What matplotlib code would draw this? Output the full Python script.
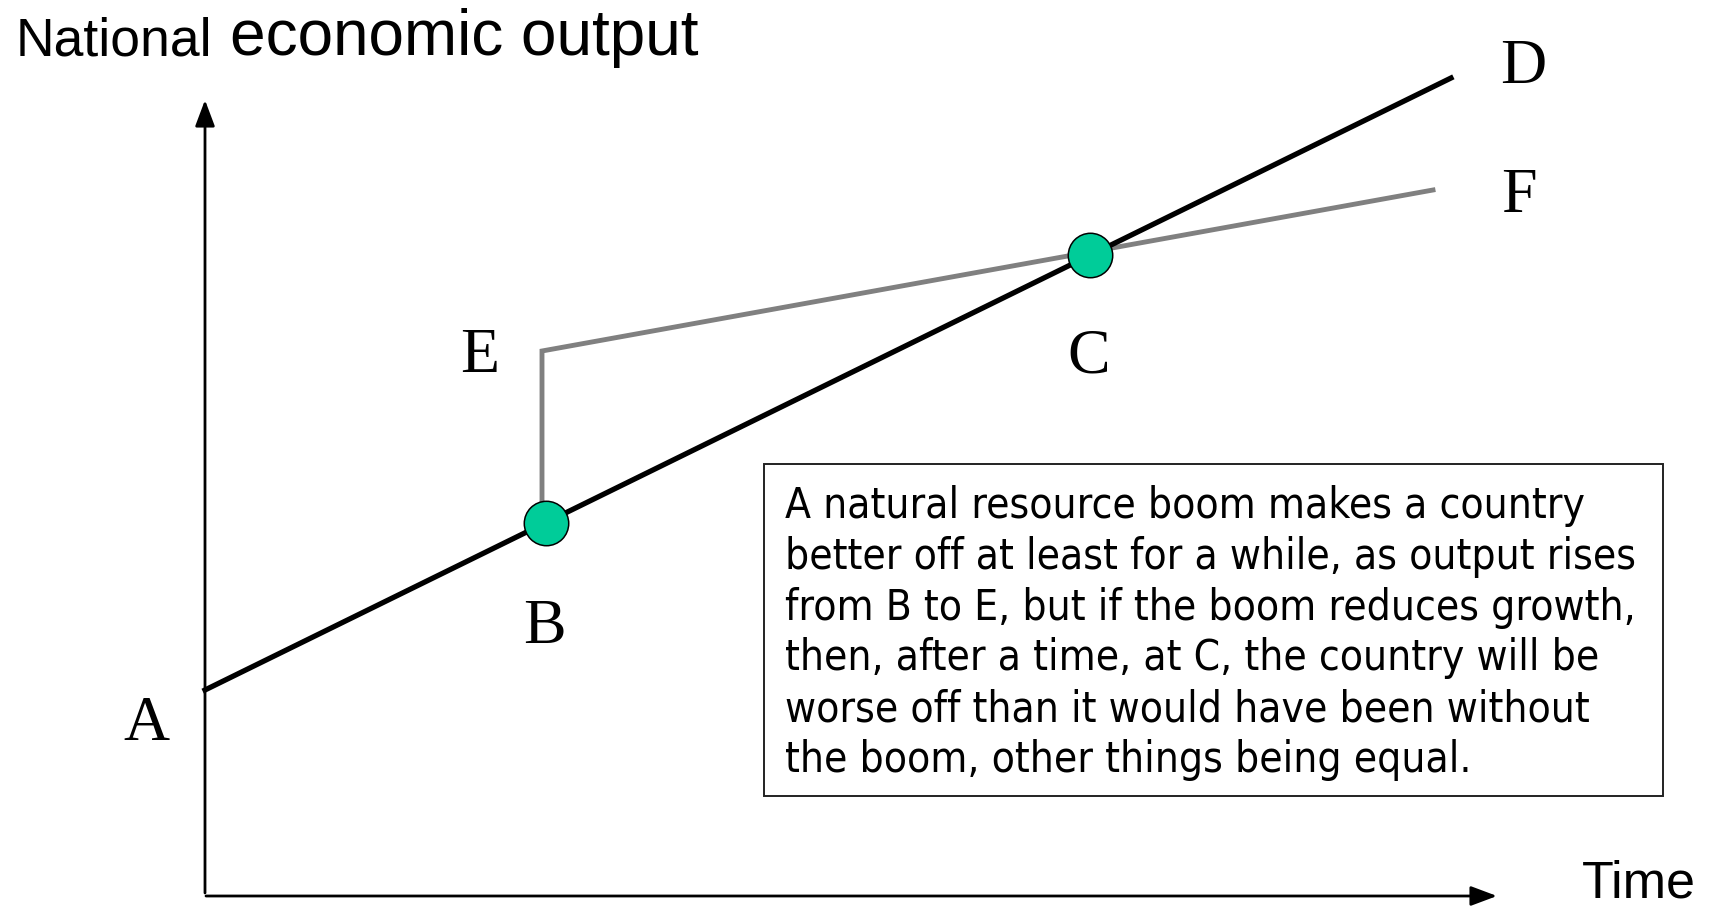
import matplotlib
matplotlib.use('Agg')
import matplotlib.pyplot as plt
from matplotlib.patches import Rectangle

# schematic values (time, output) in axis units, origin at the axis corner
no_boom_time = [0.0, 12.46]
no_boom_output = [2.06, 8.18]
boom_time = [3.37, 3.37, 12.28]
boom_output = [3.70, 5.45, 7.06]
dot_time = [3.41, 8.85]
dot_output = [3.735, 6.41]

point_labels = ['A', 'B', 'C', 'D', 'E', 'F']
label_time = [-0.585, 3.39, 8.84, 13.18, 2.745, 13.135]
label_output = [1.56, 2.53, 5.24, 8.13, 5.24, 6.84]

note_lines = [
    'A natural resource boom makes a country',
    'better off at least for a while, as output rises',
    'from B to E, but if the boom reduces growth,',
    'then, after a time, at C, the country will be',
    'worse off than it would have been without',
    'the boom, other things being equal.',
]

fig = plt.figure(figsize=(17.13, 9.09), dpi=100)
ax = fig.add_axes([0, 0, 1, 1])
ax.set_xlim(-2.05, 15.08)
ax.set_ylim(-0.13, 8.96)
ax.axis('off')

# axes with arrow heads
arrow = dict(arrowstyle='-|>,head_length=1.6,head_width=0.6', lw=2.0, color='black',
             mutation_scale=10, shrinkA=0, shrinkB=0)
ax.annotate('', xy=(0, 7.96), xytext=(0, 0.03), arrowprops=arrow)
ax.annotate('', xy=(12.92, 0), xytext=(0.01, 0), arrowprops=arrow)

ax.plot(boom_time, boom_output, color='#808080', lw=3.5, solid_joinstyle='miter', zorder=2)
ax.plot(no_boom_time, no_boom_output, color='black', lw=3.8, zorder=3)
ax.plot(dot_time, dot_output, 'o', ms=32, mfc='#00CC99', mec='black', mew=1.1, zorder=4)

for lab, t, o in zip(point_labels, label_time, label_output):
    ax.text(t, o, lab, family='Liberation Serif', fontsize=46, ha='center', va='baseline')

ax.text(-1.89, 8.41, 'National', family='Liberation Sans', fontsize=38.5, va='baseline')
ax.text(0.255, 8.41, 'economic output', family='Liberation Sans', fontsize=46, va='baseline')
ax.text(13.77, -0.01, 'Time', family='Liberation Sans', fontsize=37.5, va='baseline')

# text box
ax.add_patch(Rectangle((5.59, 1.00), 8.99, 3.32, fill=False, ec='#222222', lw=1.4, zorder=1))
fs = 30
renderer = fig.canvas.get_renderer()
probe = ax.text(0, 0, note_lines[2], family='DejaVu Sans', fontstretch='condensed', fontsize=fs)
w = probe.get_window_extent(renderer).width
probe.remove()
fs = fs * 848.0 / w
for i, line in enumerate(note_lines):
    ax.text(5.80, 8.96 - (518 + i * 50.8) / 100.0, line, family='DejaVu Sans',
            fontstretch='condensed', fontsize=fs, va='baseline')

fig.savefig('out.png', dpi=100)
